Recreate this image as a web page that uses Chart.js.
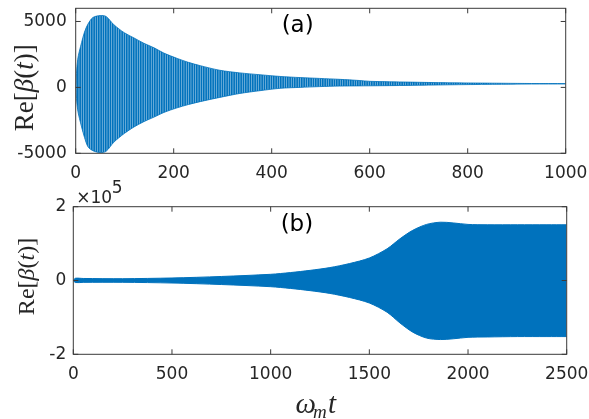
<!DOCTYPE html>
<html>
<head>
<meta charset="utf-8">
<script src="https://cdn.jsdelivr.net/npm/chart.js@4.4.1/dist/chart.umd.min.js"></script>
<style>
  html, body { margin: 0; padding: 0; background: #fff; }
  #wrap { position: relative; width: 589px; height: 419px; overflow: hidden; }
  .box { position: absolute; left: 0; width: 589px; }
  #boxA { top: 0; height: 185px; }
  #boxB { top: 170px; height: 249px; }
</style>
</head>
<body>
<div id="wrap">
  <div class="box" id="boxA"><canvas id="chartA"></canvas></div>
  <div class="box" id="boxB"><canvas id="chartB"></canvas></div>
</div>
<script>
// panel (a): envelope of the oscillation
const tA = [0, 4, 12, 18, 25, 35, 50, 62, 78, 99, 119, 139, 160, 180, 207, 230, 254, 294, 335, 376, 417, 458, 498, 539, 580, 600, 680, 760, 850, 930, 1000];
const upperA = [0, 2100, 3400, 4200, 4800, 5300, 5450, 5380, 4750, 4150, 3750, 3350, 3000, 2600, 2200, 1900, 1650, 1300, 1100, 960, 830, 745, 680, 610, 520, 460, 400, 350, 320, 295, 285];
const lowerA = [0, -1700, -3000, -3800, -4500, -4800, -4950, -4850, -4150, -3500, -3000, -2600, -2250, -1900, -1550, -1300, -1080, -760, -460, -250, -70, 0, 60, 100, 115, 120, 150, 195, 230, 255, 265];
const xTicksA = [0, 200, 400, 600, 800, 1000];
const yTicksA = [-5000, 0, 5000];

// panel (b)
const tB = [0, 10, 50, 250, 500, 750, 1000, 1100, 1200, 1300, 1400, 1500, 1590, 1655, 1720, 1790, 1860, 1925, 2000, 2100, 2250, 2400, 2500];
const upperB = [0, 6000, 5500, 4900, 6800, 10900, 16800, 21500, 27500, 35000, 46000, 61000, 86000, 113000, 136000, 152000, 158000, 156000, 152000, 151000, 151000, 151000, 151000];
const lowerB = [0, -5500, -5000, -4900, -6800, -10900, -16800, -21500, -27500, -35000, -46000, -61000, -86000, -115000, -140000, -156000, -160000, -158000, -154000, -153000, -152000, -152000, -152000];
const xTicksB = [0, 500, 1000, 1500, 2000, 2500];
const yTicksB = [-200000, 0, 200000];

const blue = '#0072BD';
const axisColor = '#262626';
const tickFont = { family: 'DejaVu Sans', size: 17 };

function toPoints(xs, ys) {
    return xs.map((x, i) => ({ x: x, y: ys[i] }));
}

// dense oscillation look for panel (a)
function stripes(ctx) {
    const c = document.createElement('canvas');
    c.width = 7;
    c.height = 4;
    const g = c.getContext('2d');
    g.fillStyle = 'rgba(0,114,189,0.45)';
    g.fillRect(0, 0, 7, 4);
    g.fillStyle = blue;
    [0, 2.33, 4.67].forEach(x => g.fillRect(x, 0, 1.6, 4));
    return ctx.createPattern(c, 'repeat');
}

function yTitle(ctx, cx, cy, size) {
    const runs = [['Re[', ''], ['β', 'italic '], ['(', ''], ['t', 'italic '], [')]', '']];
    ctx.save();
    ctx.translate(cx, cy);
    ctx.rotate(-Math.PI / 2);
    ctx.fillStyle = axisColor;
    ctx.textBaseline = 'middle';
    ctx.textAlign = 'left';
    let total = 0;
    runs.forEach(r => {
        ctx.font = r[1] + size + 'px "Liberation Serif"';
        total += ctx.measureText(r[0]).width;
    });
    let x = -total / 2;
    runs.forEach(r => {
        ctx.font = r[1] + size + 'px "Liberation Serif"';
        ctx.fillText(r[0], x, 0);
        x += ctx.measureText(r[0]).width;
    });
    ctx.restore();
}

const frame = {
    id: 'frame',
    afterDraw(chart, args, opts) {
        const { ctx, chartArea: a } = chart;
        const x = chart.scales.x;
        const y = chart.scales.y;
        ctx.save();
        ctx.strokeStyle = '#3a3a3a';
        ctx.lineWidth = 1;
        ctx.strokeRect(a.left, a.top, a.right - a.left, a.bottom - a.top);
        ctx.beginPath();
        x.ticks.forEach(t => {
            const px = x.getPixelForValue(t.value);
            ctx.moveTo(px, a.bottom);
            ctx.lineTo(px, a.bottom - 5);
            ctx.moveTo(px, a.top);
            ctx.lineTo(px, a.top + 5);
        });
        y.ticks.forEach(t => {
            const py = y.getPixelForValue(t.value);
            ctx.moveTo(a.left, py);
            ctx.lineTo(a.left + 5, py);
            ctx.moveTo(a.right, py);
            ctx.lineTo(a.right - 5, py);
        });
        ctx.stroke();

        ctx.fillStyle = '#000';
        ctx.font = '23px "DejaVu Sans"';
        ctx.textAlign = 'center';
        ctx.textBaseline = 'middle';
        ctx.fillText(opts.panel, x.getPixelForValue(opts.panelAt[0]), y.getPixelForValue(opts.panelAt[1]));

        yTitle(ctx, opts.titleX, (a.top + a.bottom) / 2 + opts.titleDy, opts.titleSize);

        if (opts.bottom) {
            ctx.fillStyle = axisColor;
            ctx.textAlign = 'left';
            ctx.textBaseline = 'alphabetic';
            ctx.font = '17px "DejaVu Sans"';
            ctx.fillText('×10', a.left + 3, a.top - 3.4);
            ctx.fillText('5', a.left + 38.5, a.top - 13.4);
            // x title: omega_m t
            ctx.font = 'italic 29px "Liberation Serif"';
            ctx.fillText('ω', 295.5, a.bottom + 59);
            ctx.fillText('t', 328, a.bottom + 59);
            ctx.font = 'italic 19px "Liberation Serif"';
            ctx.fillText('m', 313, a.bottom + 63.5);
        }
        ctx.restore();
    }
};

function makeChart(id, c) {
    return new Chart(document.getElementById(id), {
        type: 'line',
        plugins: [frame],
        data: {
            datasets: [
                {
                    data: toPoints(c.t, c.upper),
                    borderColor: blue,
                    borderWidth: c.border,
                    backgroundColor: c.fill,
                    fill: '+1',
                    pointRadius: 0,
                    tension: 0.3
                },
                {
                    data: toPoints(c.t, c.lower),
                    borderColor: blue,
                    borderWidth: c.border,
                    fill: false,
                    pointRadius: 0,
                    tension: 0.3
                }
            ]
        },
        options: {
            animation: false,
            responsive: true,
            maintainAspectRatio: false,
            layout: { padding: c.padding, autoPadding: false },
            plugins: {
                legend: { display: false },
                tooltip: { enabled: false },
                frame: c.frame
            },
            scales: {
                x: {
                    type: 'linear',
                    min: c.xTicks[0],
                    max: c.xTicks[c.xTicks.length - 1],
                    afterBuildTicks: s => { s.ticks = c.xTicks.map(v => ({ value: v })); },
                    afterFit: s => { s.height = c.xHeight; s.paddingLeft = 0; s.paddingRight = 0; },
                    grid: { display: false, drawTicks: false },
                    border: { display: false },
                    ticks: {
                        font: tickFont,
                        color: axisColor,
                        padding: 10,
                        maxRotation: 0,
                        autoSkip: false,
                        callback: v => String(v)
                    }
                },
                y: {
                    min: c.yMin,
                    max: c.yMax,
                    afterBuildTicks: s => { s.ticks = c.yTicks.map(v => ({ value: v })); },
                    afterFit: s => { s.width = c.yWidth; s.paddingTop = 0; s.paddingBottom = 0; },
                    grid: { display: false, drawTicks: false },
                    border: { display: false },
                    ticks: {
                        font: tickFont,
                        color: axisColor,
                        padding: c.yPad,
                        autoSkip: false,
                        callback: v => String(v / c.yScale)
                    }
                }
            }
        }
    });
}

const ctxA = document.getElementById('chartA').getContext('2d');

makeChart('chartA', {
    t: tA, upper: upperA, lower: lowerA,
    fill: stripes(ctxA), border: 0.8,
    xTicks: xTicksA, yTicks: yTicksA, yMin: -5000, yMax: 6000, yScale: 1,
    padding: { top: 8.3, right: 23.3, left: 0, bottom: 0 },
    xHeight: 31.7, yWidth: 75.7, yPad: 9,
    frame: { panel: '(a)', panelAt: [453, 4670], titleX: 26, titleDy: 7, titleSize: 27, bottom: false }
});

makeChart('chartB', {
    t: tB, upper: upperB, lower: lowerB,
    fill: blue, border: 1,
    xTicks: xTicksB, yTicks: yTicksB, yMin: -200000, yMax: 200000, yScale: 100000,
    padding: { top: 36.7, right: 22.3, left: 0, bottom: 0 },
    xHeight: 64.7, yWidth: 73.3, yPad: 7,
    frame: { panel: '(b)', panelAt: [1133, 149000], titleX: 28, titleDy: -4, titleSize: 24, bottom: true }
});
</script>
</body>
</html>
